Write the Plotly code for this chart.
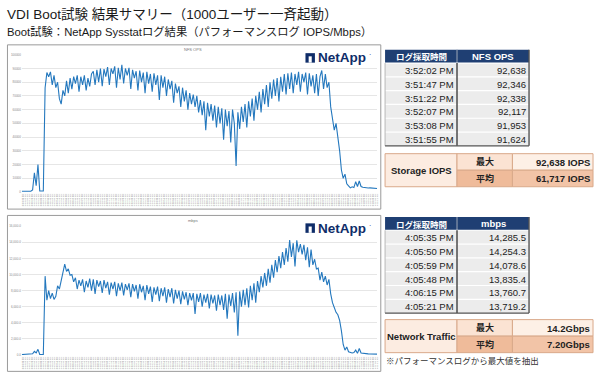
import plotly.graph_objects as go

W, H = 600, 380

# ---------------- data ----------------
nfs_ops = [
    500, 600, 500, 400, 600, 500, 1500, 14000, 4500, 20000,
    800, 600, 700, 76000, 87000, 84000, 87500, 78000, 85000, 76000,
    80000, 68000, 64000, 74000, 70000, 81000, 72000, 83000, 75000, 84000,
    79000, 85000, 73000, 84000, 78000, 85000, 74000, 83000, 77000, 86000,
    88000, 78000, 89000, 80000, 90000, 77000, 89500, 84000, 91000, 78000,
    90000, 86000, 91500, 76000, 90500, 82000, 92638, 79000, 90000, 85000,
    90500, 75000, 89000, 83000, 88000, 74000, 88500, 80000, 87000, 72000,
    87500, 79000, 86000, 73000, 86500, 78000, 85000, 67000, 85000, 76000,
    84000, 70000, 82000, 75000, 81000, 65000, 79000, 72000, 77000, 62000,
    76000, 66000, 74000, 60000, 72000, 64000, 71000, 62000, 70000, 58000,
    67000, 56000, 66000, 45000, 65000, 55000, 64000, 52000, 63000, 47000,
    62000, 50000, 61000, 38000, 60000, 48000, 59000, 36000, 60000, 50000,
    19000, 58000, 46000, 62000, 51000, 64000, 47000, 66000, 55000, 68000,
    52000, 70000, 60000, 73000, 58000, 75000, 64000, 78000, 62000, 80000,
    68000, 82000, 70000, 83000, 66000, 84000, 73000, 86000, 71000, 86500,
    75000, 87000, 72000, 86000, 78000, 87500, 73000, 86000, 80000, 87000,
    71000, 86500, 77000, 85000, 72000, 86000, 70000, 84000, 88500, 75000,
    86000, 76000, 80000, 62000, 54000, 45000, 50000, 41000, 30000, 16000,
    10000, 13000, 6000, 4500, 3000, 3800, 3200, 7500, 4000, 8000,
    4000, 3500, 3200, 3300, 2900, 3000, 2800, 2900, 2600, 2500,
]

mbps = [
    50, 60, 40, 50, 60, 50, 150, 450, 250, 700,
    60, 50, 60, 9800, 6800, 8000, 7000, 7700, 6900, 7300,
    8600, 8200, 9400, 10500, 11300, 10400, 10700, 9900, 10000, 9100,
    9600, 8200, 9300, 8600, 9400, 7800, 9200, 8400, 9500, 8000,
    9400, 7600, 9300, 8500, 9200, 7700, 9300, 8300, 9100, 7500,
    9000, 8200, 9100, 7300, 8900, 8000, 9000, 7400, 8800, 8100,
    8900, 7200, 8800, 7900, 8700, 7000, 8800, 7800, 8600, 6800,
    8700, 7600, 8500, 6600, 8400, 7500, 8500, 6700, 8300, 7300,
    8400, 6500, 8200, 7200, 8300, 6400, 8100, 7000, 8000, 6300,
    7900, 6900, 7800, 6200, 7700, 6800, 7700, 5100, 7600, 6600,
    7700, 6000, 7500, 6500, 7600, 5800, 7500, 6400, 7400, 5500,
    7500, 6200, 7400, 5600, 7600, 4500, 7500, 6100, 7700, 5300,
    7800, 2400, 7900, 6000, 8100, 6200, 8300, 5900, 8600, 6800,
    8900, 6500, 9200, 7800, 9800, 8400, 10200, 8600, 10700, 9000,
    11200, 9600, 11800, 10300, 12300, 10800, 12800, 11200, 13300, 11600,
    14285, 12200, 13900, 11000, 14250, 12800, 13800, 12500, 13700, 11800,
    13400, 10900, 13100, 11200, 11900, 10700, 10800, 9300, 10300, 9100,
    9800, 8700, 9400, 7600, 6500, 5900, 5300, 5000, 4300, 3000,
    1300, 600, 1000, 400, 300, 250, 300, 600, 200, 800,
    250, 200, 150, 120, 130, 110, 120, 100, 110, 100,
]

# x-axis time labels (sampling log timestamps)
log_start = "3:44:40 PM"
log_step_sec = 8

nfs_top_times = ["3:52:02 PM", "3:51:47 PM", "3:51:22 PM", "3:52:07 PM", "3:53:08 PM", "3:51:55 PM"]
nfs_top_vals = ["92,638", "92,346", "92,338", "92,117", "91,953", "91,624"]
mbps_top_times = ["4:05:35 PM", "4:05:50 PM", "4:05:59 PM", "4:05:48 PM", "4:06:15 PM", "4:05:21 PM"]
mbps_top_vals = ["14,285.5", "14,254.3", "14,078.6", "13,835.4", "13,760.7", "13,719.2"]

storage_summary = ["92,638 IOPS", "61,717 IOPS"]
network_summary = ["14.2Gbps", "7.20Gbps"]
summary_labels = ["最大", "平均"]

title_text = "VDI Boot試験 結果サマリー（1000ユーザー一斉起動）"
subtitle_text = "Boot試験：NetApp Sysstatログ結果（パフォーマンスログ IOPS/Mbps）"
footnote_text = "※パフォーマンスログから最大値を抽出"

# ---------------- helpers ----------------
def make_times(start, step, n):
    hh, mm, rest = start.split(":")
    ss = int(rest.split()[0])
    base = (int(hh) + 12) * 3600 + int(mm) * 60 + ss
    out = []
    for k in range(n):
        t = base + step * k
        h = t // 3600
        m = (t % 3600) // 60
        s = t % 60
        out.append(f"{h - 12 if h > 12 else h}:{m:02d}:{s:02d} PM")
    return out

times = make_times(log_start, log_step_sec, len(nfs_ops))

def X(p):
    return p / W

def Y(p):
    return 1 - p / H

shapes = []
annots = []

LAT = "Liberation Sans, Noto Sans CJK JP, sans-serif"
JP = "Noto Sans CJK JP, Liberation Sans, sans-serif"

def rect(x0, y0, x1, y1, fill, lc=None, lw=0):
    shapes.append(dict(type="rect", xref="paper", yref="paper",
                       x0=X(x0), x1=X(x1), y0=Y(y1), y1=Y(y0),
                       fillcolor=fill, line=dict(color=lc or fill, width=lw), layer="above"))

def line(x0, y0, x1, y1, color, w=1):
    shapes.append(dict(type="line", xref="paper", yref="paper",
                       x0=X(x0), x1=X(x1), y0=Y(y0), y1=Y(y1),
                       line=dict(color=color, width=w), layer="above"))

def text(x, y, s, size, color="#222", anchor="left", bold=False, family=LAT):
    annots.append(dict(xref="paper", yref="paper", x=X(x), y=Y(y),
                       text=f"<b>{s}</b>" if bold else s, showarrow=False,
                       xanchor=anchor, yanchor="middle", borderpad=0,
                       font=dict(size=size, color=color, family=family)))

# ---------------- figure ----------------
fig = go.Figure()
LINE_C = "#2478be"
fig.add_trace(go.Scatter(x=times, y=nfs_ops, mode="lines",
                         line=dict(color=LINE_C, width=1.1), xaxis="x", yaxis="y"))
fig.add_trace(go.Scatter(x=times, y=mbps, mode="lines",
                         line=dict(color=LINE_C, width=1.1), xaxis="x2", yaxis="y2"))

xd = [X(21), X(378)]
common_x = dict(type="category", showgrid=False, tickangle=-90, dtick=1,
                tickfont=dict(size=2.5, color="#888", family=LAT), ticks="",
                showline=False, zeroline=False)
fig.update_layout(
    width=W, height=H, margin=dict(l=0, r=0, t=0, b=0),
    paper_bgcolor="white", plot_bgcolor="white", showlegend=False,
    xaxis=dict(domain=xd, anchor="y", **common_x),
    yaxis=dict(domain=[Y(192), Y(53.3)], range=[0, 100000], dtick=10000,
               showgrid=True, gridcolor="#e6e6e6", gridwidth=1, zeroline=False,
               tickfont=dict(size=3, color="#888", family=LAT), ticklen=0,
               tickformat="d", anchor="x"),
    xaxis2=dict(domain=xd, anchor="y2", **common_x),
    yaxis2=dict(domain=[Y(356.7), Y(226.7)], range=[0, 16000], dtick=2000,
                showgrid=True, gridcolor="#e6e6e6", gridwidth=1, zeroline=False,
                tickfont=dict(size=3, color="#888", family=LAT), ticklen=0,
                tickformat=",.1f", anchor="x2"),
)

# titles
text(5, 12.5, title_text, 13.5, "#1a1a1a", family=LAT)
text(5, 30, subtitle_text, 11.3, "#1a1a1a", family=LAT)

# chart panels
for (y0, y1, cap, cy) in [(43.3, 209.3, "NFS OPS", 47.5), (215.7, 373.3, "mbps", 221)]:
    shapes.append(dict(type="rect", xref="paper", yref="paper",
                       x0=X(6.5), x1=X(381.7), y0=Y(y1), y1=Y(y0),
                       line=dict(color="#9a9a9a", width=1), layer="above"))
    text(193, cy, cap, 4, "#777", anchor="center")

# NetApp logos
NAVY = "#0f2d69"
for cy in [56.5, 228.5]:
    rect(306, cy - 4.8, 315.5, cy + 4.8, NAVY)
    rect(309.2, cy - 1.6, 312.3, cy + 4.8, "white")
    text(318, cy, "NetApp", 13.5, NAVY, bold=True)
    text(368.5, cy - 3, "·", 7, NAVY)

# data tables
HDR = "#1f3f73"
def top_table(y_head, times_list, vals_list, hdr2):
    x0, xm, x1 = 386, 458.3, 530.7
    hh = 13.4
    rh = 13.95
    rect(x0, y_head, x1, y_head + hh, HDR)
    line(xm, y_head, xm, y_head + hh, "#8a97ad", 1.2)
    text((x0 + xm) / 2, y_head + hh / 2, "ログ採取時間", 8.5, "white", "center", True, JP)
    text((xm + x1) / 2, y_head + hh / 2, hdr2, 9.5, "white", "center", True, LAT)
    yb = y_head + hh
    for k, (t, v) in enumerate(zip(times_list, vals_list)):
        r0 = yb + k * rh
        rect(x0, r0, x1, r0 + rh, "#ececec")
        line(x0, r0, x1, r0, "white", 1.2)
        text(xm - 2, r0 + rh / 2 + 0.5, t, 9.5, "#222", "right")
        text(x1 - 2.5, r0 + rh / 2 + 0.5, v, 9.5, "#222", "right")
    yend = yb + len(times_list) * rh
    line(x0, yb, x0, yend, "#b8b8b8", 1)
    line(xm, yb, xm, yend, "#555", 1.6)
    line(x1, y_head, x1, yend, "#555", 1.4)
    line(x0, yend, x1, yend, "#555", 1.4)

def summary_table(y0, label, vals):
    x0, xa, xb, x1 = 386, 458.3, 514, 595
    rh = 16.7
    bc = "#d9a98a"
    rect(x0, y0, xa, y0 + 2 * rh, "#fcece1", bc, 1)
    rect(xa, y0, xb, y0 + rh, "#fbe3d3", bc, 1)
    rect(xa, y0 + rh, xb, y0 + 2 * rh, "#efbb9a", bc, 1)
    rect(xb, y0, x1, y0 + rh, "#fdf0e6", bc, 1)
    rect(xb, y0 + rh, x1, y0 + 2 * rh, "#f2c4a7", bc, 1)
    text((x0 + xa) / 2, y0 + rh + 0.5, label, 9.5, "#222", "center", True, LAT)
    for k in range(2):
        text((xa + xb) / 2, y0 + rh * k + rh / 2, summary_labels[k], 9, "#222", "center", True, JP)
        text(x1 - 2, y0 + rh * k + rh / 2 + 0.5, vals[k], 9.5, "#222", "right", True, LAT)

top_table(48.3, nfs_top_times, nfs_top_vals, "NFS OPS")
summary_table(153.3, "Storage IOPS", storage_summary)
top_table(217.3, mbps_top_times, mbps_top_vals, "mbps")
summary_table(321, "Network Traffic", network_summary)
text(386, 362, footnote_text, 8.5, "#333", family=JP)

fig.update_layout(shapes=shapes, annotations=annots)
fig.write_html("out.html", config={"displayModeBar": False},
               post_script="document.body.style.margin='0px';document.body.style.overflow='hidden';")
